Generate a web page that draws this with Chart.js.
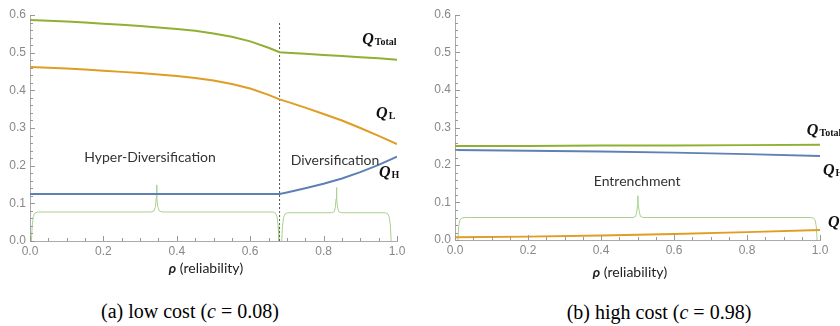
<!DOCTYPE html>
<html>
<head>
<meta charset="utf-8">
<script src="https://cdn.jsdelivr.net/npm/chart.js@4/dist/chart.umd.min.js"></script>
<style>
  body { margin: 0; background: #fff; }
  #wrap { position: relative; width: 840px; height: 326px; overflow: hidden; background: #fff; }
  canvas { position: absolute; top: 0; }
  .xtitle { position: absolute; font: 14px Lato, sans-serif; color: #222; transform: translateX(-50%); white-space: nowrap; }
  .caption { position: absolute; font: 20px "Liberation Serif", serif; color: #000; transform: translateX(-50%); white-space: nowrap; }
</style>
</head>
<body>
<div id="wrap">
  <canvas id="chart_a" width="420" height="260" style="left:0"></canvas>
  <canvas id="chart_b" width="420" height="260" style="left:420px"></canvas>
  <div class="xtitle" style="left:206px; top:259px"><b><i>ρ</i></b> (reliability)</div>
  <div class="xtitle" style="left:630px; top:263px"><b><i>ρ</i></b> (reliability)</div>
  <div class="caption" style="left:190px; top:300px">(a) low cost (<i>c</i> = 0.08)</div>
  <div class="caption" style="left:659px; top:301px">(b) high cost (<i>c</i> = 0.98)</div>
</div>
<script>
// (a) low cost, c = 0.08
const rho_a = [0, 0.05, 0.1, 0.15, 0.2, 0.25, 0.3, 0.35, 0.4, 0.45, 0.5, 0.55, 0.6, 0.65, 0.68,
               0.7, 0.75, 0.8, 0.85, 0.9, 0.95, 1.0];
const qtotal_a = [0.587, 0.585, 0.583, 0.580, 0.577, 0.574, 0.571, 0.567, 0.563, 0.558, 0.551, 0.542, 0.530, 0.513, 0.501,
                  0.500, 0.497, 0.494, 0.491, 0.488, 0.485, 0.481];
const ql_a = [0.462, 0.460, 0.458, 0.455, 0.452, 0.449, 0.446, 0.442, 0.438, 0.433, 0.426, 0.417, 0.405, 0.388, 0.376,
              0.370, 0.354, 0.337, 0.320, 0.300, 0.279, 0.257];
const qh_a = [0.125, 0.125, 0.125, 0.125, 0.125, 0.125, 0.125, 0.125, 0.125, 0.125, 0.125, 0.125, 0.125, 0.125, 0.125,
              0.129, 0.140, 0.152, 0.166, 0.183, 0.202, 0.224];
const threshold_a = 0.68;

// (b) high cost, c = 0.98
const rho_b = [0, 0.2, 0.4, 0.6, 0.8, 1.0];
const qtotal_b = [0.251, 0.251, 0.252, 0.252, 0.253, 0.254];
const qh_b = [0.240, 0.238, 0.236, 0.233, 0.229, 0.224];
const ql_b = [0.007, 0.009, 0.012, 0.016, 0.021, 0.027];

// curly braces marking the regimes
const brace_hyper_x = [0.004, 0.006, 0.009, 0.013, 0.02, 0.33, 0.338, 0.342, 0.344, 0.345, 0.346, 0.348, 0.352, 0.36, 0.662, 0.669, 0.673, 0.676, 0.678];
const brace_hyper_y = [0, 0.04, 0.065, 0.074, 0.077, 0.077, 0.08, 0.092, 0.115, 0.149, 0.115, 0.092, 0.08, 0.077, 0.077, 0.074, 0.065, 0.04, 0];
const brace_div_x = [0.686, 0.688, 0.691, 0.695, 0.702, 0.822, 0.829, 0.832, 0.834, 0.835, 0.836, 0.838, 0.841, 0.848, 0.968, 0.975, 0.979, 0.982, 0.984];
const brace_div_y = [0, 0.04, 0.063, 0.072, 0.075, 0.075, 0.078, 0.09, 0.112, 0.142, 0.112, 0.09, 0.078, 0.075, 0.075, 0.072, 0.063, 0.04, 0];
const brace_ent_x = [0.008, 0.01, 0.013, 0.017, 0.025, 0.488, 0.495, 0.498, 0.5, 0.501, 0.502, 0.505, 0.508, 0.515, 0.975, 0.983, 0.987, 0.99, 0.992];
const brace_ent_y = [0, 0.035, 0.052, 0.058, 0.06, 0.06, 0.063, 0.075, 0.095, 0.118, 0.095, 0.075, 0.063, 0.06, 0.06, 0.058, 0.052, 0.035, 0];

const GREEN = '#8fb032';
const ORANGE = '#e19c24';
const BLUE = '#5e81b5';
const BRACE = '#a9d18e';

function pts(xs, ys) {
  return xs.map((x, i) => ({ x: x, y: ys[i] }));
}

function line(data, color, width, dash) {
  return {
    data: data,
    borderColor: color,
    borderWidth: width,
    borderDash: dash || [],
    pointRadius: 0,
    showLine: true,
    fill: false,
    tension: 0,
  };
}

// inward minor/major ticks plus the text labels inside the plot
const extras = {
  id: 'extras',
  afterDatasetsDraw(chart, args, opts) {
    const { ctx } = chart;
    const x = chart.scales.x, y = chart.scales.y;
    ctx.save();
    ctx.strokeStyle = '#999';
    ctx.lineWidth = 1;
    for (let i = 0; i <= 30; i++) {
      const py = Math.round(y.getPixelForValue(i * 0.02)) + 0.5;
      const len = i % 5 === 0 ? 5 : 3;
      ctx.beginPath();
      ctx.moveTo(x.left, py);
      ctx.lineTo(x.left + len, py);
      ctx.stroke();
    }
    for (let i = 0; i <= 20; i++) {
      const px = Math.round(x.getPixelForValue(i * 0.05)) + 0.5;
      const len = i % 4 === 0 ? 5 : 3;
      ctx.beginPath();
      ctx.moveTo(px, y.bottom);
      ctx.lineTo(px, y.bottom - len);
      ctx.stroke();
    }

    for (const lb of opts.labels || []) {
      const px = x.getPixelForValue(lb.x);
      const py = y.getPixelForValue(lb.y);
      if (lb.sub) {
        ctx.fillStyle = '#111';
        ctx.textAlign = 'left';
        ctx.textBaseline = 'alphabetic';
        ctx.font = 'italic bold 16px "Liberation Serif"';
        ctx.fillText('Q', px, py);
        const w = ctx.measureText('Q').width;
        ctx.font = 'bold 10px "Liberation Serif"';
        ctx.fillText(lb.sub, px + w + 1, py + 1);
      } else {
        ctx.fillStyle = '#333';
        ctx.textAlign = 'center';
        ctx.textBaseline = 'middle';
        ctx.font = '14px Lato';
        ctx.fillText(lb.text, px, py);
      }
    }
    ctx.restore();
  }
};

function make_chart(id, datasets, labels, area) {
  const tick_font = { family: '"Liberation Sans"', size: 12 };
  return new Chart(document.getElementById(id), {
    type: 'scatter',
    data: { datasets: datasets },
    plugins: [extras],
    options: {
      responsive: false,
      animation: false,
      layout: { padding: { top: 15, right: area.right, left: 0, bottom: 0 } },
      plugins: {
        legend: { display: false },
        tooltip: { enabled: false },
        extras: { labels: labels },
      },
      scales: {
        x: {
          type: 'linear', min: 0, max: 1,
          ticks: { stepSize: 0.2, callback: v => v.toFixed(1), color: '#888', font: tick_font, padding: 3, maxRotation: 0 },
          grid: { drawOnChartArea: false, drawTicks: false },
          border: { color: '#aaa' },
          afterFit: s => { s.height = area.bottom; },
        },
        y: {
          min: 0, max: 0.6,
          ticks: { stepSize: 0.1, callback: v => v.toFixed(1), color: '#888', font: tick_font, padding: 4 },
          grid: { drawOnChartArea: false, drawTicks: false },
          border: { color: '#aaa' },
          afterFit: s => { s.width = area.left; },
        },
      },
    },
  });
}

make_chart('chart_a', [
  line(pts(rho_a, qtotal_a), GREEN, 2),
  line(pts(rho_a, ql_a), ORANGE, 2),
  line(pts(rho_a, qh_a), BLUE, 2),
  line([{ x: threshold_a, y: 0 }, { x: threshold_a, y: 0.58 }], '#555', 1, [2, 2]),
  line(pts(brace_hyper_x, brace_hyper_y), BRACE, 1),
  line(pts(brace_div_x, brace_div_y), BRACE, 1),
], [
  { x: 0.905, y: 0.523, sub: 'Total' },
  { x: 0.943, y: 0.326, sub: 'L' },
  { x: 0.951, y: 0.170, sub: 'H' },
  { x: 0.327, y: 0.223, text: 'Hyper-Diversification' },
  { x: 0.831, y: 0.214, text: 'Diversification' },
], { left: 30, right: 23, bottom: 19 });

make_chart('chart_b', [
  line(pts(rho_b, qtotal_b), GREEN, 2),
  line(pts(rho_b, qh_b), BLUE, 2),
  line(pts(rho_b, ql_b), ORANGE, 2),
  line(pts(brace_ent_x, brace_ent_y), BRACE, 1),
], [
  { x: 0.964, y: 0.280, sub: 'Total' },
  { x: 1.008, y: 0.173, sub: 'H' },
  { x: 1.022, y: 0.035, sub: 'L' },
  { x: 0.499, y: 0.155, text: 'Entrenchment' },
], { left: 35, right: 20, bottom: 20 });
</script>
</body>
</html>
